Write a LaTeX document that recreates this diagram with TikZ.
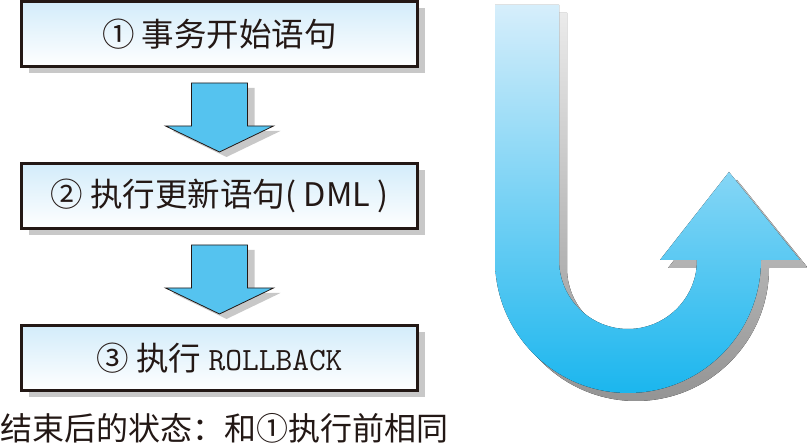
\documentclass[tikz,border=0pt]{standalone}
\usepackage{fontspec}
\setmainfont{Noto Sans CJK SC}
\usetikzlibrary{calc,shadows}

\definecolor{inkdark}{HTML}{231815}
\definecolor{boxtop}{HTML}{D3ECFA}
\definecolor{arrowblue}{HTML}{55C3EF}
\definecolor{shadowgray}{HTML}{C8C8C8}
\definecolor{utop}{HTML}{D6EEFB}
\definecolor{ubottom}{HTML}{1BB6EE}

\tikzset{
  stepbox/.style={draw=inkdark, line width=3pt, top color=boxtop, bottom color=white,
    minimum width=396pt, minimum height=65pt, inner sep=0pt, text=inkdark,
    font=\fontsize{32.5}{38}\selectfont,
    drop shadow={shadow xshift=7pt, shadow yshift=-7pt, fill=shadowgray, opacity=1}},
  blockarrow/.style={draw=inkdark, line width=0.8pt, fill=arrowblue,
    drop shadow={shadow xshift=7pt, shadow yshift=-5pt, fill=shadowgray, opacity=1}}
}

% block arrow from the bottom of one box to the top of the next
\newcommand\blockdown[2]{
  \coordinate (#1top) at ($(#1.south)+(0,-15)$);
  \coordinate (#1tip) at ($(#2.north)+(0,10)$);
  \draw[blockarrow] ($(#1top)+(-28,0)$) -- ($(#1top)+(28,0)$) -- ($(#1tip)+(28,26)$)
    -- ($(#1tip)+(54,26)$) -- (#1tip) -- ($(#1tip)+(-54,26)$) -- ($(#1tip)+(-28,26)$) -- cycle;
}

\begin{document}
\begin{tikzpicture}[x=1pt,y=1pt]
    \useasboundingbox (0,0) rectangle (807,443);

    \node[stepbox] (begin) at (219.5,409) {① 事务开始语句};
    \node[stepbox] (dml) at (219.5,247) {② 执行更新语句( DML )};
    \node[stepbox] (rollback) at (219.5,85) {③ 执行 {\ttfamily ROLLBACK}};

    \blockdown{begin}{dml}
    \blockdown{dml}{rollback}

    \node[anchor=west, inner sep=0pt, text=inkdark, font=\fontsize{32}{38}\selectfont]
      (state) at (0,15) {结束后的状态：和①执行前相同};

    % U-turn arrow
    \coordinate (U1) at (495,438);
    \coordinate (U2) at (495,183);
    \coordinate (U3) at (800,183);
    \coordinate (U4) at (729,271);
    \coordinate (U5) at (660,183);
    \coordinate (U6) at (697,183);
    \coordinate (U7) at (559,438);

    \begin{scope}[transform canvas={shift={(8pt,-8pt)}}]
      \fill[top color=black!8, bottom color=black!42]
        (U1) -- (U2) arc[start angle=180, end angle=360, radius=133] -- (U3) -- (U4) -- (U5)
        -- (U6) arc[start angle=0, end angle=-180, radius=69] -- (U7) -- cycle; % shadow
    \end{scope}
    \fill[top color=utop, bottom color=ubottom]
      (U1) -- (U2) arc[start angle=180, end angle=360, radius=133] -- (U3) -- (U4) -- (U5)
      -- (U6) arc[start angle=0, end angle=-180, radius=69] -- (U7) -- cycle; % arrow
\end{tikzpicture}
\end{document}
